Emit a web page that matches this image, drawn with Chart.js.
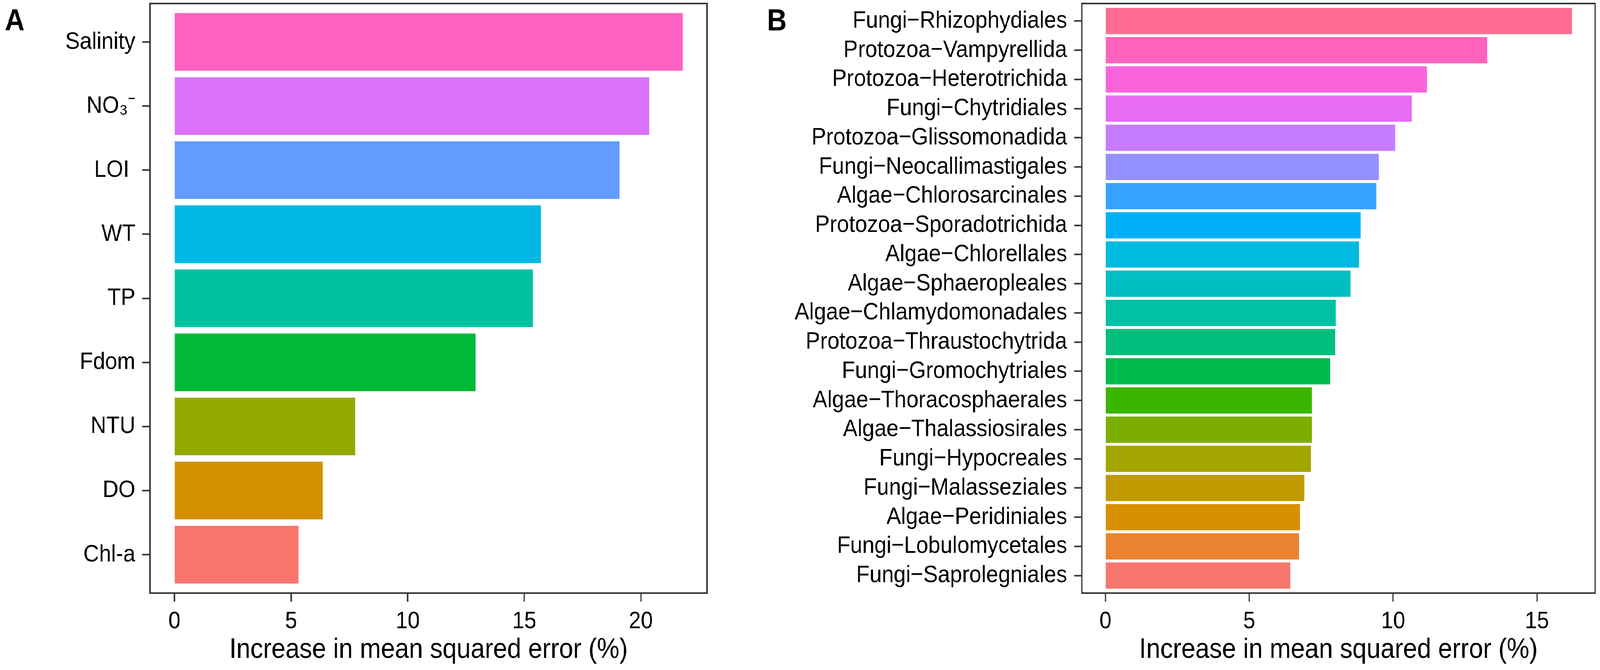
<!DOCTYPE html>
<html>
<head>
<meta charset="utf-8">
<script src="https://cdn.jsdelivr.net/npm/chart.js@4.4.1/dist/chart.umd.min.js"></script>
<style>
  html, body { margin: 0; padding: 0; background: #fff; overflow: hidden; }
  #page { position: absolute; left: 0; top: 0; width: 4564px; height: 1716px; transform-origin: 0 0; }
  .panel { position: absolute; top: 0; height: 1716px; }
  #panelA { left: 0; width: 2045px; }
  #panelB { left: 2100px; width: 2464px; }
</style>
</head>
<body>
<div id="page">
  <div class="panel" id="panelA"><canvas id="chartA"></canvas></div>
  <div class="panel" id="panelB"><canvas id="chartB"></canvas></div>
</div>
<script>
// panel A: environmental factors, top to bottom
const namesA = ['Salinity', 'NO\u2083\u207B', 'LOI ', 'WT', 'TP', 'Fdom', 'NTU', 'DO', 'Chl-a'];
const valuesA = [21.80, 20.36, 19.08, 15.71, 15.37, 12.91, 7.75, 6.35, 5.31];
const colorsA = ['#FF61C3', '#DB72FB', '#619CFF', '#00B9E3', '#00C19F', '#00BA38', '#93AA00', '#D39200', '#F8766D'];
const ticksA = [0, 5, 10, 15, 20];

// panel B: microeukaryote orders, top to bottom
const namesB = [
    'Fungi\u2212Rhizophydiales', 'Protozoa\u2212Vampyrellida', 'Protozoa\u2212Heterotrichida',
    'Fungi\u2212Chytridiales', 'Protozoa\u2212Glissomonadida', 'Fungi\u2212Neocallimastigales',
    'Algae\u2212Chlorosarcinales', 'Protozoa\u2212Sporadotrichida', 'Algae\u2212Chlorellales',
    'Algae\u2212Sphaeropleales', 'Algae\u2212Chlamydomonadales', 'Protozoa\u2212Thraustochytrida',
    'Fungi\u2212Gromochytriales', 'Algae\u2212Thoracosphaerales', 'Algae\u2212Thalassiosirales',
    'Fungi\u2212Hypocreales', 'Fungi\u2212Malasseziales', 'Algae\u2212Peridiniales',
    'Fungi\u2212Lobulomycetales', 'Fungi\u2212Saprolegniales'
];
const valuesB = [16.22, 13.27, 11.17, 10.65, 10.07, 9.50, 9.42, 8.87, 8.81, 8.52,
    8.01, 7.98, 7.81, 7.18, 7.18, 7.15, 6.92, 6.76, 6.73, 6.42];
const colorsB = ['#FF6C91', '#FF62BC', '#FA62DB', '#E76BF3', '#C77CFF', '#9590FF', '#35A2FF',
    '#00B0F6', '#00BAE0', '#00BFC4', '#00C1A3', '#00BF7D', '#00BB4E', '#39B600', '#7CAE00',
    '#A3A500', '#C09B00', '#D89000', '#EA8331', '#F8766D'];
const ticksB = [0, 5, 10, 15];

const FONT = '"Liberation Sans", Arial, Helvetica, sans-serif';
const axisTitle = 'Increase in mean squared error (%)';

// the page is laid out at 4564 x 1716 and squeezed to whatever the window really is
const sx = (window.innerWidth || 4564) / 4564;
const sy = (window.innerHeight || 1716) / 1716;
document.getElementById('page').style.transform = 'scale(' + sx + ',' + sy + ')';

const panelBox = {
    id: 'panelBox',
    afterDatasetsDraw(chart) {
        const { ctx, chartArea } = chart;
        ctx.save();
        ctx.strokeStyle = '#333333';
        ctx.lineWidth = 4;
        ctx.strokeRect(chartArea.left, chartArea.top, chartArea.right - chartArea.left, chartArea.bottom - chartArea.top);
        ctx.restore();
    }
};

const panelTag = {
    id: 'panelTag',
    afterDraw(chart, args, opts) {
        const ctx = chart.ctx;
        ctx.save();
        ctx.fillStyle = '#000';
        ctx.font = 'bold 78px ' + FONT;
        ctx.textBaseline = 'alphabetic';
        ctx.fillText(opts.text, opts.x, opts.y);
        ctx.restore();
    }
};

function makeChart(canvasId, names, values, colors, tickValues, xMin, xMax, yAxisWidth, padRight, tag) {
    const ctx = document.getElementById(canvasId);
    const tickGrid = {
        offset: false,
        drawOnChartArea: false,
        drawTicks: true,
        tickLength: 22,
        tickWidth: 4,
        tickColor: '#333333'
    };
    return new Chart(ctx, {
        type: 'bar',
        data: {
            datasets: [{
                data: values.map((v, i) => ({ x: v, y: i })),
                backgroundColor: colors,
                borderWidth: 0,
                barPercentage: 0.9,
                categoryPercentage: 1
            }]
        },
        options: {
            indexAxis: 'y',
            responsive: true,
            maintainAspectRatio: false,
            animation: false,
            devicePixelRatio: 1,
            layout: { padding: { top: 9, right: padRight, bottom: 0, left: 0 } },
            plugins: {
                legend: { display: false },
                tooltip: { enabled: false },
                panelTag: tag
            },
            scales: {
                y: {
                    type: 'linear',
                    reverse: true,
                    offset: false,
                    min: -0.6,
                    max: names.length - 0.4,
                    afterBuildTicks: (axis) => { axis.ticks = names.map((_, i) => ({ value: i })); },
                    afterFit: (axis) => {
                        axis.width = yAxisWidth;
                        axis.paddingTop = 0;
                        axis.paddingBottom = 0;
                    },
                    ticks: {
                        autoSkip: false,
                        padding: 20,
                        color: '#000',
                        font: { family: FONT, size: 62 },
                        callback: (v) => names[v]
                    },
                    grid: tickGrid,
                    border: { display: false }
                },
                x: {
                    type: 'linear',
                    min: xMin,
                    max: xMax,
                    afterBuildTicks: (axis) => { axis.ticks = tickValues.map((v) => ({ value: v })); },
                    afterFit: (axis) => {
                        axis.height = 197;
                        axis.paddingLeft = 0;
                        axis.paddingRight = 0;
                    },
                    ticks: {
                        padding: 14,
                        color: '#000',
                        font: { family: FONT, size: 62 }
                    },
                    grid: tickGrid,
                    border: { display: false },
                    title: {
                        display: true,
                        text: axisTitle,
                        color: '#000',
                        font: { family: FONT, size: 72 },
                        padding: { top: 0, bottom: 8 }
                    }
                }
            }
        },
        plugins: [panelBox, panelTag]
    });
}

makeChart('chartA', namesA, valuesA, colorsA, ticksA, -1.05, 22.84, 428, 28, { text: 'A', x: 14, y: 78 });
makeChart('chartB', namesB, valuesB, colorsB, ticksB, -0.82, 17.02, 986, 14, { text: 'B', x: 88, y: 78 });
</script>
</body>
</html>
